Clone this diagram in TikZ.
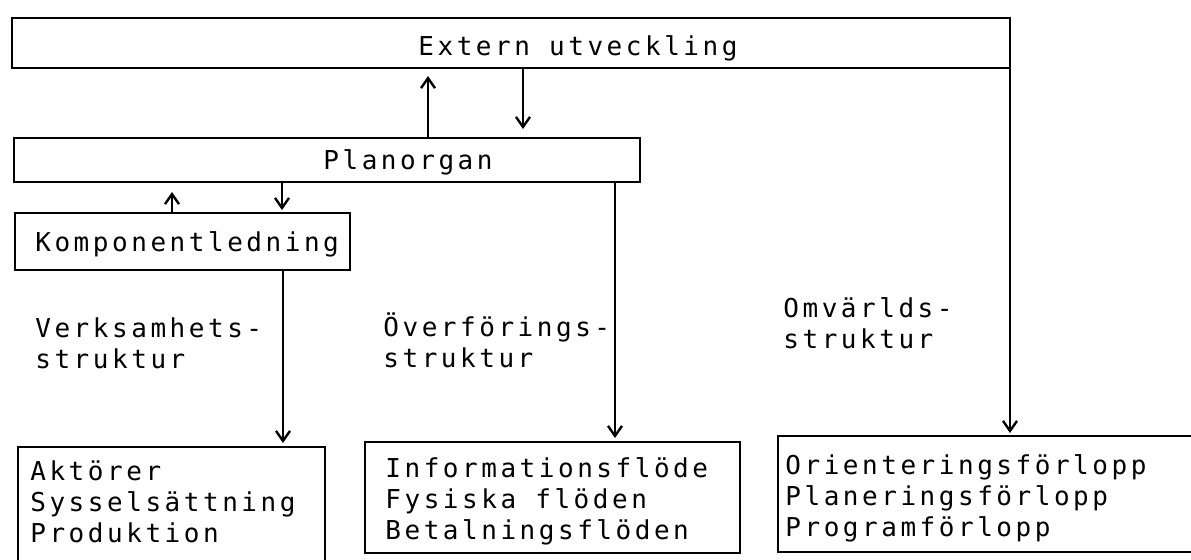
\documentclass[tikz,border=0pt]{standalone}
\usepackage{fontspec}
\newfontfamily\mono[LetterSpace=13.6]{DejaVu Sans Mono}
\usetikzlibrary{arrows.meta}
\begin{document}
\begin{tikzpicture}[x=0.5pt,y=-0.5pt,
  box/.style={draw, line width=1.3pt, inner sep=0pt, outer sep=0pt},
  txt/.style={font=\mono\fontsize{13pt}{15.5pt}\selectfont, inner sep=0pt, anchor=base west, align=left},
  arr/.style={line width=1.2pt, -{Straight Barb[length=5pt,width=7pt,line width=1.2pt]}}]
\useasboundingbox (0,0) rectangle (1191,559);
\clip (0,0) rectangle (1191,559);
% boxes
\node[box, minimum width=499pt, minimum height=25pt] (ext) at (511,43) {};
\node[box, minimum width=313pt, minimum height=22pt] (plan) at (327,160) {};
\node[box, minimum width=167.5pt, minimum height=28.5pt] (komp) at (182.5,241.5) {};
\node[box, minimum width=153.5pt, minimum height=59pt] (akt) at (171.5,506) {};
\node[box, minimum width=187.5pt, minimum height=55.5pt] (info) at (552.5,497.5) {};
\node[box, minimum width=213.5pt, minimum height=58pt] (omv) at (991.5,494) {};
% texts (anchor = baseline of the last line)
\node[txt] (text) at (418,55) {Extern utveckling};
\node[txt] (tplan) at (323,169) {Planorgan};
\node[txt] (tkomp) at (35,251) {Komponentledning};
\node[txt] (tverk) at (35,368) {Verksamhets-\\struktur};
\node[txt] (tover) at (383,367) {Överförings-\\struktur};
\node[txt] (tomvs) at (783,348) {Omvärlds-\\struktur};
\node[txt] (takt) at (30,542) {Aktörer\\Sysselsättning\\Produktion};
\node[txt] (tinfo) at (385,539) {Informationsflöde\\Fysiska flöden\\Betalningsflöden};
\node[txt] (tomv) at (785,536) {Orienteringsförlopp\\Planeringsförlopp\\Programförlopp};
% helper x positions
\coordinate (a1) at (428,0);
\coordinate (a2) at (523,0);
\coordinate (a3) at (172,0);
\coordinate (a4) at (282,0);
\coordinate (a5) at (283,0);
\coordinate (a6) at (615,0);
% connectors
\draw[arr, shorten >=4pt] (a1 |- plan.north) -- (a1 |- ext.south);
\draw[arr, shorten >=4.5pt] (a2 |- ext.south) -- (a2 |- plan.north);
\draw[arr, shorten >=5pt] (a3 |- komp.north) -- (a3 |- plan.south);
\draw[arr, shorten >=1.5pt] (a4 |- plan.south) -- (a4 |- komp.north);
\draw[arr, shorten >=2pt] (a5 |- komp.south) -- (a5 |- akt.north);
\draw[arr, shorten >=2pt] (a6 |- plan.south) -- (a6 |- info.north);
\draw[arr, shorten >=1.5pt] (ext.north east) -- (ext.north east |- omv.north);
\end{tikzpicture}
\end{document}
